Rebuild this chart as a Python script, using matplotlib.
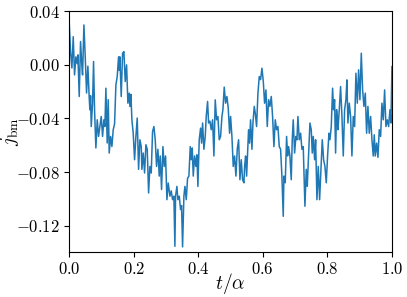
import matplotlib
matplotlib.use("Agg")
import matplotlib.pyplot as plt
from matplotlib.ticker import FuncFormatter
import numpy as np

plt.rcParams['mathtext.fontset'] = 'cm'
plt.rcParams['font.family'] = 'serif'
plt.rcParams['font.serif'] = ['cmr10', 'DejaVu Serif']

# time (t/alpha) and current j_bm
t = [
    0.000, 0.0042, 0.0084, 0.0125, 0.0166, 0.0208, 0.0249, 0.0270, 0.0311, 0.0352,
    0.0394, 0.0414, 0.0456, 0.0497, 0.0538, 0.0579, 0.0621, 0.0641, 0.0662, 0.0683,
    0.0724, 0.0755, 0.0786, 0.0827, 0.0869, 0.0910, 0.0951, 0.0993, 0.1034, 0.1075,
    0.1106, 0.1137, 0.1178, 0.1209, 0.1240, 0.1282, 0.1323, 0.1364, 0.1406, 0.1447,
    0.1488, 0.1530, 0.1550, 0.1571, 0.1612,
    0.1654, 0.1695, 0.1736, 0.1778, 0.1819, 0.1860, 0.1881, 0.1912, 0.1943, 0.1984,
    0.2026, 0.2067, 0.2108, 0.2150, 0.2191, 0.2232, 0.2253, 0.2294, 0.2336, 0.2377,
    0.2418, 0.2460, 0.2501, 0.2542, 0.2583, 0.2625, 0.2666, 0.2707, 0.2749, 0.2790,
    0.2821, 0.2862, 0.2904, 0.2945, 0.2986, 0.3028, 0.3069, 0.3121, 0.3162, 0.3203,
    0.3244, 0.3275,
    0.3296, 0.3337, 0.3368, 0.3410, 0.3451, 0.3482, 0.3513, 0.3554, 0.3586, 0.3627,
    0.3668, 0.3709, 0.3751, 0.3782, 0.3813, 0.3844, 0.3885, 0.3926, 0.3957, 0.3988,
    0.4029, 0.4071, 0.4102, 0.4133, 0.4174, 0.4215, 0.4246, 0.4288, 0.4319, 0.4360,
    0.4401, 0.4443, 0.4484, 0.4525, 0.4567, 0.4608, 0.4649, 0.4691, 0.4732, 0.4763,
    0.4804, 0.4846, 0.4887, 0.4928, 0.4970,
    0.5001, 0.5042, 0.5083, 0.5125, 0.5166, 0.5207, 0.5249, 0.5290, 0.5331, 0.5372,
    0.5414, 0.5435, 0.5466, 0.5497, 0.5528, 0.5558, 0.5589, 0.5620, 0.5662, 0.5693,
    0.5734, 0.5765, 0.5806, 0.5848, 0.5889, 0.5930, 0.5972, 0.6013, 0.6054, 0.6096,
    0.6137, 0.6178, 0.6219, 0.6261, 0.6302, 0.6343, 0.6385, 0.6426, 0.6467, 0.6509,
    0.6550, 0.6591, 0.6632,
    0.6653, 0.6694, 0.6736, 0.6767, 0.6798, 0.6839, 0.6880, 0.6911, 0.6942, 0.6984,
    0.7025, 0.7056, 0.7087, 0.7128, 0.7170, 0.7211, 0.7252, 0.7304, 0.7345, 0.7376,
    0.7418, 0.7459, 0.7500, 0.7531, 0.7562, 0.7604, 0.7635, 0.7676, 0.7717, 0.7759,
    0.7800, 0.7841, 0.7883, 0.7924, 0.7965, 0.8006, 0.8048, 0.8079, 0.8120, 0.8161,
    0.8192, 0.8223, 0.8254, 0.8285, 0.8316,
    0.8327, 0.8368, 0.8409, 0.8451, 0.8492, 0.8533, 0.8574, 0.8605, 0.8636, 0.8678,
    0.8719, 0.8760, 0.8802, 0.8843, 0.8884, 0.8926, 0.8967, 0.9008, 0.9050, 0.9091,
    0.9132, 0.9174, 0.9215, 0.9256, 0.9297, 0.9339, 0.9380, 0.9421, 0.9452, 0.9483,
    0.9525, 0.9566, 0.9607, 0.9649, 0.9690, 0.9731, 0.9773, 0.9814, 0.9855, 0.9897,
    0.9938, 0.9969, 1.000,
]

j_bm = [
    0.032, 0.0099, -0.0023, 0.021, -0.0075, 0.006, 0.001, 0.0075, -0.0236, 0.0174,
    -0.0013, -0.0075, 0.0298, 0.006, -0.021, -0.001, -0.0248, -0.0335, -0.023, -0.046,
    -0.0285, 0.0025, -0.0335, -0.062, -0.041, -0.0534, -0.046, -0.0385, -0.0534, -0.041,
    -0.046, -0.0174, -0.0583, -0.026, -0.0658, -0.0534, -0.0609, -0.0484, -0.044, -0.015,
    -0.0087, 0.006, -0.004, 0.006, -0.0236,
    0.0087, 0.0099, -0.0124, 0.0, -0.0286, -0.0211, -0.031, -0.022, -0.041, -0.051,
    -0.0708, -0.0534, -0.0397, -0.078, -0.0559, -0.061, -0.078, -0.0658, -0.0807, -0.0596,
    -0.063, -0.0956, -0.0758, -0.0807, -0.0499, -0.046, -0.056, -0.0758, -0.063, -0.083,
    -0.068, -0.093, -0.061, -0.0758, -0.068, -0.1006, -0.0882, -0.098, -0.094, -0.1006,
    -0.098, -0.1354,
    -0.098, -0.0907, -0.1006, -0.098, -0.108, -0.105, -0.1358, -0.098, -0.0907, -0.1006,
    -0.0846, -0.083, -0.061, -0.0708, -0.062, -0.083, -0.068, -0.0758, -0.0671, -0.0907,
    -0.0559, -0.0472, -0.0584, -0.0434, -0.063, -0.0534, -0.0385, -0.0273, -0.0434, -0.042,
    -0.0484, -0.041, -0.068, -0.0261, -0.041, -0.0385, -0.0559, -0.0534, -0.0385, -0.0335,
    -0.0166, -0.0286, -0.0236, -0.0323, -0.051,
    -0.0385, -0.0534, -0.0758, -0.068, -0.083, -0.063, -0.0559, -0.0857, -0.0708, -0.0857,
    -0.088, -0.0758, -0.068, -0.083, -0.0658, -0.0484, -0.0584, -0.041, -0.063, -0.0434,
    -0.031, -0.036, -0.046, -0.0211, -0.0087, -0.011, -0.0025, -0.012, -0.0286, -0.0187,
    -0.046, -0.026, -0.031, -0.0236, -0.0385, -0.061, -0.041, -0.0484, -0.046, -0.061,
    -0.063, -0.083, -0.113,
    -0.083, -0.088, -0.0534, -0.068, -0.061, -0.068, -0.0857, -0.0559, -0.041, -0.0658,
    -0.0534, -0.0559, -0.0385, -0.0559, -0.051, -0.063, -0.061, -0.1055, -0.078, -0.0907,
    -0.0658, -0.0434, -0.0484, -0.0658, -0.0534, -0.0708, -0.0559, -0.1006, -0.0758, -0.1006,
    -0.078, -0.0559, -0.0708, -0.0758, -0.088, -0.068, -0.051, -0.0559, -0.046, -0.0174,
    -0.0335, -0.026, -0.0658, -0.0335, -0.0434,
    -0.0484, -0.0335, -0.0162, -0.0385, -0.068, -0.0335, -0.026, -0.0112, -0.0434, -0.0286,
    -0.0385, -0.068, -0.0385, -0.046, -0.0062, -0.0286, -0.0037, -0.026, 0.0087, -0.0187,
    -0.031, -0.0211, -0.051, -0.031, -0.051, -0.0385, -0.0559, -0.068, -0.0522, -0.068,
    -0.0584, -0.069, -0.0484, -0.0534, -0.0286, -0.041, -0.0187, -0.046, -0.041, -0.046,
    -0.0335, -0.0434, -0.0013,
]

xticks = [0.0, 0.2, 0.4, 0.6, 0.8, 1.0]
yticks = [0.04, 0.00, -0.04, -0.08, -0.12]

fig = plt.figure(figsize=(4.07, 2.97), dpi=100)
ax = fig.add_axes([0.170, 0.150, 0.793, 0.812])

ax.plot(t, j_bm, color='#1f77b4', lw=1.1)

ax.set_xlim(0, 1)
ax.set_ylim(-0.14, 0.04)
ax.set_xticks(xticks)
ax.set_yticks(yticks)
ax.xaxis.set_major_formatter(FuncFormatter(lambda v, p: r'$%.1f$' % v))
ax.yaxis.set_major_formatter(FuncFormatter(lambda v, p: r'$%.2f$' % v))
ax.tick_params(labelsize=12, pad=3)

ax.set_xlabel(r'$t/\alpha$', fontsize=14)
ax.set_ylabel(r'$j_{\rm bm}$', fontsize=14)
ax.xaxis.set_label_coords(0.5, -0.078)
ax.yaxis.set_label_coords(-0.148, 0.5)

fig.savefig('out.png', dpi=100)
